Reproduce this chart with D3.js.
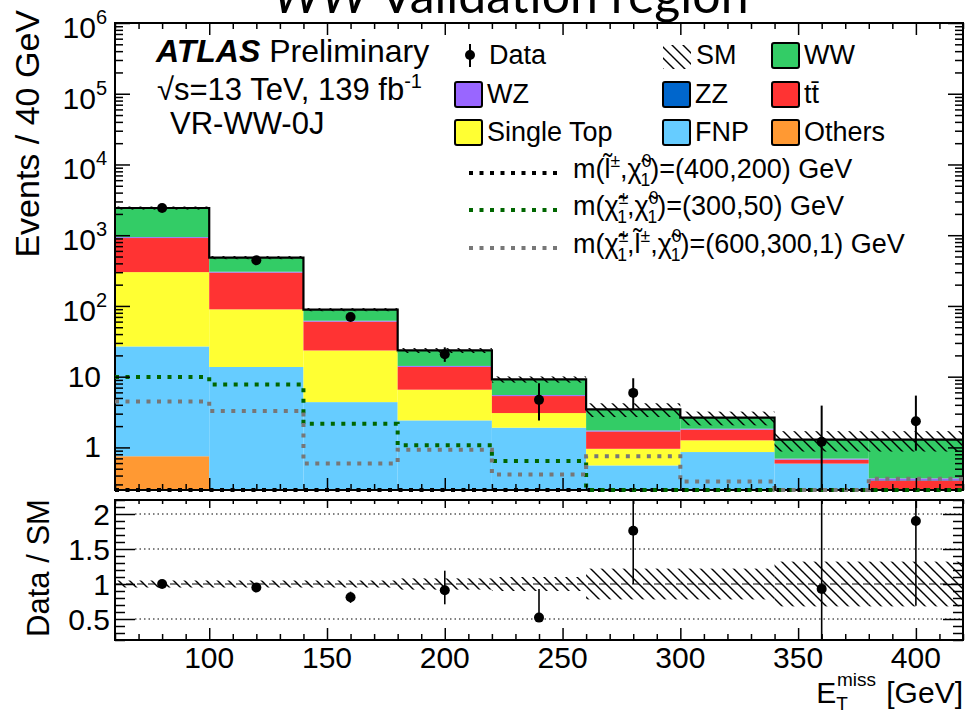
<!DOCTYPE html>
<html lang="en">
<head>
<meta charset="UTF-8">
<title>WW validation region</title>
<script src="https://cdn.jsdelivr.net/npm/d3@7"></script>
<style>
  body { margin: 0; background: #fff; }
  svg { display: block; }
  text { font-family: "Liberation Sans", Arial, sans-serif; fill: #000; }
</style>
</head>
<body>
<div id="plot"></div>
<script>
// E_T^miss bin edges [GeV]
var edges = [60, 100, 140, 180, 220, 260, 300, 340, 380, 420];

// SM backgrounds per bin, stacked bottom -> top
var others = [0.75, 0, 0, 0, 0, 0, 0, 0, 0];
var fnp    = [26, 13.7, 4.37, 2.41, 1.90, 0.556, 0.86, 0.59, 0];
var single = [274, 75.8, 19.1, 4.14, 1.16, 0.40, 0.40, 0, 0];
var ttbar  = [611, 206.5, 36.5, 7.15, 2.26, 0.72, 0.52, 0.08, 0.34];
var zz     = [4, 1.5, 0.3, 0.08, 0.03, 0.01, 0.01, 0.005, 0.005];
var wz     = [25, 7, 1.5, 0.4, 0.15, 0.05, 0.05, 0.02, 0.02];
var ww     = [1484, 178, 26.9, 9.3, 3.66, 1.71, 0.79, 0.59, 0.92];
// relative SM uncertainty
var smUnc  = [0.05, 0.05, 0.05, 0.08, 0.10, 0.22, 0.22, 0.32, 0.32];

// data (null = no entry)
var data   = [2420, 442, 69.7, 20.7, 4.7, 5.9, null, 1.2, 2.35];
var dataLo = [49, 21, 8, 4.5, 2.3, 2.4, null, 1.2, 1.45];
var dataHi = [49, 21, 9, 5.3, 3.4, 3.6, null, 2.7, 3.05];

// signal benchmarks
var sigSlep  = [0, 0, 0, 0, 0, 0, 0, 0, 0];
var sigC1    = [9.87, 7.78, 2.16, 1.07, 0.64, 0, 0, 0, 0];
var sigC1Sl  = [4.47, 3.26, 0.59, 0.93, 0.415, 0.75, 0.33, 0, 0.36];

// data / SM
var ratio   = [1.0, 0.95, 0.81, 0.91, 0.52, 1.76, null, 0.93, 1.9];
var ratioLo = [0.02, 0.04, 0.08, 0.20, 0.06, 0.76, null, 0.93, 1.21];
var ratioHi = [0.02, 0.04, 0.08, 0.28, 0.41, 1.0, null, 1.9, 2.0];

var logMajor = [1, 10, 100, 1e3, 1e4, 1e5, 1e6];
var ratioTicks = [0.5, 1, 1.5, 2];
var xMajor = [100, 150, 200, 250, 300, 350, 400];

var width = 966, height = 716;
var svg = d3.select('#plot').append('svg')
    .attr('width', width)
    .attr('height', height);

var x = d3.scaleLinear().domain([60, 420]).range([115, 963]);
var y = d3.scaleLog().domain([0.25, 1e6]).range([490, 23]).clamp(true);
var yr = d3.scaleLinear().domain([0.2, 2.2]).range([640, 500]).clamp(true);
var ymin = 0.25;
function ys(v) { return y(Math.max(v, ymin)); }

var defs = svg.append("defs");
var pat = defs.append("pattern").attr("id", "hatch")
    .attr("patternUnits", "userSpaceOnUse").attr("width", 11).attr("height", 11);
pat.append("path").attr("d", "M-3,-3L14,14M-3,8L3,14M8,-3L14,3")
    .attr("stroke", "#000").attr("stroke-width", 1.4);
defs.append("clipPath").attr("id", "clipTop").append("rect")
    .attr("x", 115).attr("y", 23).attr("width", 848).attr("height", 467);
defs.append("clipPath").attr("id", "clipSig").append("rect")
    .attr("x", 113).attr("y", 23).attr("width", 852).attr("height", 471);
defs.append("clipPath").attr("id", "clipRatio").append("rect")
    .attr("x", 115).attr("y", 500).attr("width", 848).attr("height", 140);

// title added above the plot
var title = svg.append("text").attr("x", 273).attr("y", 13)
    .style("font-family", "Lato, 'Open Sans', sans-serif").style("font-size", "50px");
title.append("tspan").style("font-style", "italic").text("WW");
title.append("tspan").text(" Validation region");

// ---------- top panel ----------
var keys = ["others", "fnp", "single", "ttbar", "zz", "wz", "ww"];
var colors = {others: "#ff9933", fnp: "#66ccff", single: "#ffff33", ttbar: "#ff3333",
              zz: "#0066cc", wz: "#9966ff", ww: "#33cc66"};
var table = edges.slice(0, -1).map(function (e, i) {
    return {i: i, others: others[i], fnp: fnp[i], single: single[i], ttbar: ttbar[i],
            zz: zz[i], wz: wz[i], ww: ww[i]};
});
var series = d3.stack().keys(keys)(table);
var total = series[series.length - 1].map(function (d) { return d[1]; });

var mainG = svg.append("g").attr("clip-path", "url(#clipTop)");
series.forEach(function (s) {
    mainG.append("g").selectAll("rect")
        .data(s.filter(function (d) { return d[1] > ymin && d[1] > d[0]; }))
        .join("rect")
        .attr("x", function (d) { return x(edges[d.data.i]); })
        .attr("width", function (d) { return x(edges[d.data.i + 1]) - x(edges[d.data.i]); })
        .attr("y", function (d) { return ys(d[1]); })
        .attr("height", function (d) { return ys(d[0]) - ys(d[1]); })
        .attr("fill", colors[s.key]);
});

// SM uncertainty band
mainG.append("g").selectAll("rect").data(total).join("rect")
    .attr("x", function (d, i) { return x(edges[i]); })
    .attr("width", function (d, i) { return x(edges[i + 1]) - x(edges[i]); })
    .attr("y", function (d, i) { return ys(d * (1 + smUnc[i])); })
    .attr("height", function (d, i) { return ys(d * (1 - smUnc[i])) - ys(d * (1 + smUnc[i])); })
    .attr("fill", "url(#hatch)");

function stepPts(vals) {
    var pts = vals.map(function (v, i) { return [edges[i], v]; });
    pts.push([edges[edges.length - 1], vals[vals.length - 1]]);
    return pts;
}
var stepLine = d3.line()
    .x(function (d) { return x(d[0]); })
    .y(function (d) { return ys(d[1]); })
    .curve(d3.curveStepAfter);

mainG.append("path").attr("d", stepLine(stepPts(total)))
    .attr("fill", "none").attr("stroke", "#000").attr("stroke-width", 2.2);

// frames (drawn before the signal lines so the dotted lines sit on the bottom edge)
svg.append("rect").attr("x", 115).attr("y", 23).attr("width", 848).attr("height", 467)
    .attr("fill", "none").attr("stroke", "#000").attr("stroke-width", 2);
svg.append("rect").attr("x", 115).attr("y", 500).attr("width", 848).attr("height", 140)
    .attr("fill", "none").attr("stroke", "#000").attr("stroke-width", 2);

var sigG = svg.append("g").attr("clip-path", "url(#clipSig)");
var sigs = [[sigSlep, "#000000"], [sigC1, "#006600"], [sigC1Sl, "#777777"]];
sigs.forEach(function (s) {
    sigG.append("path").attr("d", stepLine(stepPts(s[0])))
        .attr("fill", "none").attr("stroke", s[1]).attr("stroke-width", 4)
        .attr("stroke-dasharray", "4 6.5");
});

// data points
var centers = edges.slice(0, -1).map(function (e, i) { return (e + edges[i + 1]) / 2; });
var dpts = data.map(function (d, i) { return {c: centers[i], v: d, lo: dataLo[i], hi: dataHi[i]}; })
    .filter(function (d) { return d.v != null; });
mainG.append("g").selectAll("line").data(dpts).join("line")
    .attr("x1", function (d) { return x(d.c); }).attr("x2", function (d) { return x(d.c); })
    .attr("y1", function (d) { return ys(d.v + d.hi); })
    .attr("y2", function (d) { return ys(d.v - d.lo); })
    .attr("stroke", "#000").attr("stroke-width", 2);
mainG.append("g").selectAll("circle").data(dpts).join("circle")
    .attr("cx", function (d) { return x(d.c); })
    .attr("cy", function (d) { return ys(d.v); })
    .attr("r", 5).attr("fill", "#000");

// ---------- ratio panel ----------
var rp = svg.append("g").attr("clip-path", "url(#clipRatio)");
rp.append("g").selectAll("rect").data(smUnc).join("rect")
    .attr("x", function (d, i) { return x(edges[i]); })
    .attr("width", function (d, i) { return x(edges[i + 1]) - x(edges[i]); })
    .attr("y", function (d) { return yr(1 + d); })
    .attr("height", function (d) { return yr(1 - d) - yr(1 + d); })
    .attr("fill", "url(#hatch)");
[0.5, 1.5, 2].forEach(function (v) {
    rp.append("line").attr("x1", 135).attr("x2", 963).attr("y1", yr(v)).attr("y2", yr(v))
        .attr("stroke", "#000").attr("stroke-width", 1).attr("stroke-dasharray", "1.5 3");
});
rp.append("line").attr("x1", 115).attr("x2", 963).attr("y1", yr(1)).attr("y2", yr(1))
    .attr("stroke", "#000").attr("stroke-width", 1.2).attr("stroke-dasharray", "7 4");

var rpts = ratio.map(function (r, i) { return {c: centers[i], v: r, lo: ratioLo[i], hi: ratioHi[i]}; })
    .filter(function (d) { return d.v != null; });
rp.append("g").selectAll("line").data(rpts).join("line")
    .attr("x1", function (d) { return x(d.c); }).attr("x2", function (d) { return x(d.c); })
    .attr("y1", function (d) { return yr(d.v + d.hi); })
    .attr("y2", function (d) { return yr(d.v - d.lo); })
    .attr("stroke", "#000").attr("stroke-width", 1.6);
rp.append("g").selectAll("circle").data(rpts).join("circle")
    .attr("cx", function (d) { return x(d.c); })
    .attr("cy", function (d) { return yr(d.v); })
    .attr("r", 5).attr("fill", "#000");

// ---------- axes ----------
var minorX = d3.range(60, 421, 10).filter(function (v) { return xMajor.indexOf(v) < 0; });
var logMinor = [];
[0.1, 1, 10, 100, 1e3, 1e4, 1e5].forEach(function (dec) {
    for (var k = 2; k <= 9; k++) if (k * dec >= ymin) logMinor.push(k * dec);
});
var ratioMinor = d3.range(0.2, 2.21, 0.1).map(function (v) { return +v.toFixed(1); })
    .filter(function (v) { return ratioTicks.indexOf(v) < 0; });

function tickAxis(axis, tx, ty) {
    var g = svg.append("g").attr("transform", "translate(" + tx + "," + ty + ")").call(axis);
    g.select(".domain").remove();
    g.selectAll(".tick line").attr("stroke", "#000").attr("stroke-width", 1.5);
    g.selectAll(".tick text").remove();
    return g;
}
// top panel x ticks (bottom and top edge)
tickAxis(d3.axisBottom(x).tickValues(xMajor).tickSize(-12), 0, 490);
tickAxis(d3.axisBottom(x).tickValues(minorX).tickSize(-6), 0, 490);
tickAxis(d3.axisTop(x).tickValues(xMajor).tickSize(-12), 0, 23);
tickAxis(d3.axisTop(x).tickValues(minorX).tickSize(-6), 0, 23);
// top panel y ticks
tickAxis(d3.axisLeft(y).tickValues(logMajor).tickSize(-15), 115, 0);
tickAxis(d3.axisLeft(y).tickValues(logMinor).tickSize(-8), 115, 0);
tickAxis(d3.axisRight(y).tickValues(logMajor).tickSize(-15), 963, 0);
tickAxis(d3.axisRight(y).tickValues(logMinor).tickSize(-8), 963, 0);
// ratio x ticks
tickAxis(d3.axisBottom(x).tickValues(xMajor).tickSize(-12), 0, 640);
tickAxis(d3.axisBottom(x).tickValues(minorX).tickSize(-6), 0, 640);
tickAxis(d3.axisTop(x).tickValues(xMajor).tickSize(-8), 0, 500);
tickAxis(d3.axisTop(x).tickValues(minorX).tickSize(-4), 0, 500);
// ratio y ticks
tickAxis(d3.axisLeft(yr).tickValues(ratioTicks).tickSize(-20), 115, 0);
tickAxis(d3.axisLeft(yr).tickValues(ratioMinor).tickSize(-10), 115, 0);
tickAxis(d3.axisRight(yr).tickValues(ratioTicks).tickSize(-20), 963, 0);
tickAxis(d3.axisRight(yr).tickValues(ratioMinor).tickSize(-10), 963, 0);

// tick labels
svg.append("g").selectAll("text").data(xMajor).join("text")
    .attr("x", function (d) { return x(d); }).attr("y", 668)
    .attr("text-anchor", "middle").style("font-size", "30px").text(function (d) { return d; });

logMajor.forEach(function (v) {
    var p = Math.round(Math.log10(v));
    var t = svg.append("text").attr("text-anchor", "end").style("font-size", "30px");
    if (p <= 1) {
        t.attr("x", 101).attr("y", y(v) + 10).text(v === 1 ? "1" : "10");
    } else {
        t.attr("x", 107).attr("y", y(v) + 15);
        t.append("tspan").text("10");
        t.append("tspan").attr("dy", -14).style("font-size", "20px").text(p);
    }
});
svg.append("g").selectAll("text").data(ratioTicks).join("text")
    .attr("x", 110).attr("y", function (d) { return yr(d) + 11; })
    .attr("text-anchor", "end").style("font-size", "30px")
    .text(function (d) { return d; });

// axis titles
svg.append("text").attr("transform", "translate(39,10) rotate(-90)")
    .attr("text-anchor", "end").style("font-size", "34px").text("Events / 40 GeV");
svg.append("text").attr("transform", "translate(49,568) rotate(-90)")
    .attr("text-anchor", "middle").style("font-size", "31px").text("Data / SM");
var xt = svg.append("text").attr("x", 963).attr("y", 703).attr("text-anchor", "end")
    .style("font-size", "30px");
xt.append("tspan").text("E");
xt.append("tspan").attr("dy", 7).style("font-size", "19px").text("T");
xt.append("tspan").attr("dx", -11).attr("dy", -24).style("font-size", "19px").text("miss");
xt.append("tspan").attr("dx", 2).attr("dy", 17).text(" [GeV]");

// ---------- labels & legend ----------
var at = svg.append("text").attr("x", 156).attr("y", 62).style("font-size", "32px");
at.append("tspan").style("font-weight", "bold").style("font-style", "italic").text("ATLAS");
at.append("tspan").text(" Preliminary");
var lum = svg.append("text").attr("x", 157).attr("y", 100).style("font-size", "31px");
lum.append("tspan").text("\u221As=13 TeV, 139 fb");
lum.append("tspan").attr("dy", -12).style("font-size", "20px").text("-1");
svg.append("text").attr("x", 170).attr("y", 134).style("font-size", "31px").text("VR-WW-0J");

var leg = svg.append("g");
// Data
leg.append("line").attr("x1", 470).attr("x2", 470).attr("y1", 44).attr("y2", 67)
    .attr("stroke", "#000").attr("stroke-width", 2);
leg.append("circle").attr("cx", 470).attr("cy", 55).attr("r", 5).attr("fill", "#000");
leg.append("text").attr("x", 489).attr("y", 64).style("font-size", "27px").text("Data");
// SM
leg.append("rect").attr("x", 663).attr("y", 45).attr("width", 28).attr("height", 24)
    .attr("fill", "url(#hatch)");
leg.append("text").attr("x", 696).attr("y", 64).style("font-size", "27px").text("SM");

var boxes = [
    {k: "ww", label: "WW", x: 772, y: 43},
    {k: "wz", label: "WZ", x: 455, y: 82},
    {k: "zz", label: "ZZ", x: 663, y: 82},
    {k: "ttbar", label: "tt\u0304", x: 772, y: 82},
    {k: "single", label: "Single Top", x: 455, y: 120},
    {k: "fnp", label: "FNP", x: 663, y: 120},
    {k: "others", label: "Others", x: 772, y: 120}
];
boxes.forEach(function (b) {
    leg.append("rect").attr("x", b.x).attr("y", b.y).attr("width", 27).attr("height", 25)
        .attr("rx", 2).attr("fill", colors[b.k]).attr("stroke", "#000").attr("stroke-width", 2);
    leg.append("text").attr("x", b.x + 32).attr("y", b.y + 21).style("font-size", "27px")
        .text(b.label);
});

function richText(sel, x0, y0, size, parts) {
    var t = sel.append("text").attr("x", x0).attr("y", y0).style("font-size", size + "px");
    var cur = 0;
    parts.forEach(function (p) {
        var shift = p.s === "sup" ? -0.42 * size : p.s === "sub" ? 0.3 * size : 0;
        var s = t.append("tspan").attr("dy", shift - cur).text(p.t);
        cur = shift;
        if (p.s) s.style("font-size", (0.65 * size) + "px");
        if (p.dx) s.attr("dx", p.dx);
    });
    return t;
}
var chi = "\u03C7\u0303", sl = "l\u0303";
var sigLeg = [
    {c: "#000000", y: 173, parts: [{t: "m(" + sl}, {t: "\u00B1", s: "sup"}, {t: "," + chi},
        {t: "0", s: "sup"}, {t: "1", s: "sub", dx: -11}, {t: ")=(400,200) GeV"}]},
    {c: "#006600", y: 210, parts: [{t: "m(" + chi}, {t: "\u00B1", s: "sup"}, {t: "1", s: "sub", dx: -11},
        {t: "," + chi}, {t: "0", s: "sup"}, {t: "1", s: "sub", dx: -11}, {t: ")=(300,50) GeV"}]},
    {c: "#777777", y: 248, parts: [{t: "m(" + chi}, {t: "\u00B1", s: "sup"}, {t: "1", s: "sub", dx: -11},
        {t: "," + sl}, {t: "\u00B1", s: "sup"}, {t: "," + chi}, {t: "0", s: "sup"},
        {t: "1", s: "sub", dx: -11}, {t: ")=(600,300,1) GeV"}]}
];
sigLeg.forEach(function (s) {
    leg.append("line").attr("x1", 469).attr("x2", 557).attr("y1", s.y).attr("y2", s.y)
        .attr("stroke", s.c).attr("stroke-width", 4).attr("stroke-dasharray", "4 6.5");
    richText(leg, 573, s.y + 5, 27, s.parts);
});
</script>
</body>
</html>
